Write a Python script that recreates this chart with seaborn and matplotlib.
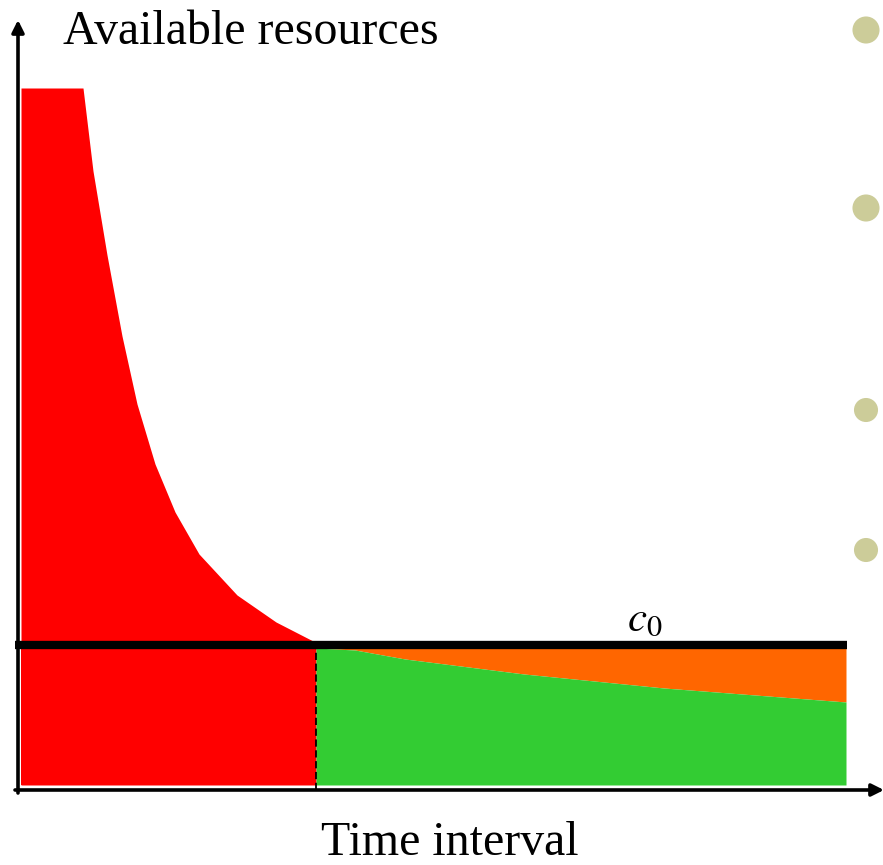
import numpy as np
import pandas as pd
import matplotlib
matplotlib.use("Agg")
import matplotlib.pyplot as plt
import seaborn as sns

# time / resource values (same units on both axes)
red_t = [3, 65, 75, 89, 104, 119, 137, 157, 181, 219, 258, 295, 298]
red_r = [702, 702, 619, 535, 454, 386, 326, 278, 236, 195, 168, 149, 145]
green_t = [298, 337, 387, 506, 646, 828]
green_r = [142, 140, 131, 116, 102, 88]
c0 = 145
t_switch = 298
t_end = 828
bottom = 5
dot_t = [848, 848, 848, 848]
dot_r = [760, 582, 380, 240]
dot_size = [380, 380, 300, 300]

sns.set_style("white")
plt.rcParams['font.family'] = ['Liberation Serif', 'DejaVu Serif']
plt.rcParams['mathtext.fontset'] = 'stix'
plt.rcParams['text.color'] = 'black'

fig = plt.figure(figsize=(8.83, 8.65), dpi=100)
ax = fig.add_axes([0, 0, 1, 1])
ax.set_xlim(-18, 865)
ax.set_ylim(-75, 790)
ax.axis('off')

red = pd.DataFrame({'t': red_t, 'r': red_r})
green = pd.DataFrame({'t': green_t, 'r': green_r})

# red area: above and below c0 until the switch time
ax.fill_between(red.t, bottom, red.r, color='#ff0000', lw=0)
ax.fill_between([red_t[0], t_switch], bottom, c0, color='#ff0000', lw=0)
# orange and green parts after the switch
ax.fill_between(green.t, green.r, c0, color='#ff6600', lw=0)
ax.fill_between(green.t, bottom, green.r, color='#33cc33', lw=0)

# dashed divider
sns.lineplot(x=[t_switch, t_switch], y=[0, c0], ax=ax, color='black',
             lw=1.3, linestyle=(0, (4, 2)), estimator=None, sort=False)

# c0 threshold line
sns.lineplot(x=[-3, t_end + 1], y=[c0, c0], ax=ax, color='black', lw=6,
             estimator=None, solid_capstyle='butt')
ax.text(627, 151, r'$c_{\mathit{0}}$', fontsize=31, ha='center', va='bottom')

# axes with arrows
ax.annotate('', xy=(0, 770), xytext=(0, -3), annotation_clip=False,
            arrowprops=dict(arrowstyle='-|>', color='black', lw=2.6,
                            mutation_scale=18, shrinkA=0, shrinkB=0))
ax.annotate('', xy=(866, 0), xytext=(-3, 0), annotation_clip=False,
            arrowprops=dict(arrowstyle='-|>', color='black', lw=2.6,
                            mutation_scale=18, shrinkA=0, shrinkB=0))

ax.text(45, 746, 'Available resources', fontsize=34.5, ha='left', va='baseline')
ax.text(432, -65, 'Time interval', fontsize=34.5, ha='center', va='baseline')

# decorative bullets on the right
sns.scatterplot(x=dot_t, y=dot_r, size=dot_size, sizes=(300, 380), ax=ax,
                color='#cccc99', edgecolor='none', legend=False, clip_on=False)

fig.savefig('out.png', dpi=100)
